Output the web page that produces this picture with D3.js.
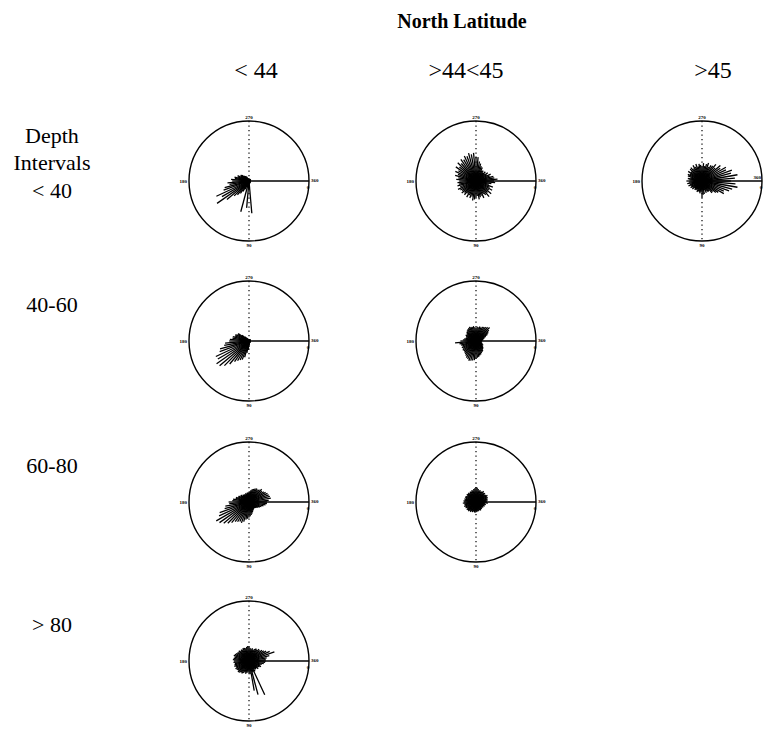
<!DOCTYPE html>
<html>
<head>
<meta charset="utf-8">
<script src="https://cdn.jsdelivr.net/npm/d3@7"></script>
<style>
  html, body { margin: 0; padding: 0; background: #fff; }
  svg { display: block; }
  text { font-family: "Liberation Serif", "Times New Roman", serif; fill: #000; }
</style>
</head>
<body>
<svg id="chart" width="765" height="729"></svg>
<script>
// ---------- DATA ----------
const title = "North Latitude";
const latitudeLabels = ["< 44", ">44<45", ">45"];
const depthLabels = [["Depth", "Intervals", "< 40"], ["40-60"], ["60-80"], ["> 80"]];
const directionLabels = { top: "270", left: "180", right: "360", rightLow: "0", bottom: "90" };

// directions of the rays (degrees), every 5 degrees
const directions = d3.range(0, 360, 5);

// relative ray lengths (fraction of circle radius) per panel, one per direction
const lat44_depth40 = [0.03,0.03,0.02,0.03,0.03,0.02,0.03,0.03,0.02,0.03,0.03,0.03,0.04,0.04,0.04,0.04,0.05,0.54,
  0.05,0.45,0.06,0.53,0.10,0.15,0.20,0.25,0.30,0.35,0.48,0.65,0.52,0.60,0.45,0.42,0.33,0.36,
  0.28,0.30,0.24,0.25,0.20,0.21,0.16,0.17,0.15,0.12,0.10,0.10,0.08,0.05,0.04,0.04,0.03,0.04,
  0.03,0.03,0.04,0.03,0.03,0.03,0.04,0.03,0.03,0.03,0.03,0.04,0.03,0.03,0.03,0.03,0.03,0.03];
const lat4445_depth40 = [0.30,0.32,0.26,0.22,0.30,0.25,0.31,0.26,0.33,0.27,0.34,0.28,0.25,0.31,0.26,0.28,0.31,0.25,
  0.28,0.31,0.33,0.27,0.30,0.26,0.31,0.25,0.30,0.27,0.31,0.28,0.30,0.33,0.28,0.32,0.29,0.31,
  0.28,0.33,0.30,0.36,0.32,0.38,0.34,0.41,0.36,0.43,0.38,0.44,0.41,0.46,0.44,0.48,0.45,0.47,
  0.41,0.40,0.33,0.30,0.26,0.25,0.20,0.21,0.18,0.22,0.19,0.24,0.21,0.27,0.24,0.30,0.31,0.36];
const lat45_depth40 = [0.48,0.56,0.60,0.52,0.48,0.40,0.42,0.33,0.30,0.25,0.26,0.20,0.21,0.18,0.21,0.16,0.22,0.23,
  0.28,0.18,0.21,0.19,0.18,0.20,0.16,0.18,0.19,0.17,0.21,0.19,0.22,0.20,0.24,0.21,0.25,0.22,
  0.26,0.21,0.24,0.20,0.25,0.26,0.23,0.28,0.24,0.28,0.29,0.25,0.30,0.26,0.30,0.25,0.29,0.27,
  0.24,0.30,0.25,0.29,0.32,0.26,0.30,0.31,0.36,0.31,0.40,0.37,0.46,0.44,0.53,0.50,0.60,0.55];
const lat44_depth60 = [0.03,0.03,0.03,0.03,0.03,0.03,0.03,0.03,0.03,0.03,0.03,0.03,0.03,0.03,0.03,0.03,0.04,0.06,
  0.10,0.15,0.20,0.28,0.33,0.35,0.38,0.42,0.50,0.58,0.64,0.66,0.60,0.61,0.52,0.50,0.42,0.40,
  0.33,0.32,0.28,0.28,0.25,0.25,0.22,0.22,0.15,0.10,0.07,0.05,0.04,0.03,0.03,0.03,0.03,0.03,
  0.03,0.03,0.03,0.03,0.03,0.03,0.03,0.03,0.03,0.03,0.03,0.03,0.03,0.03,0.03,0.03,0.03,0.03];
const lat4445_depth60 = [0.10,0.08,0.10,0.09,0.11,0.12,0.14,0.13,0.15,0.17,0.18,0.20,0.21,0.22,0.24,0.25,0.27,0.28,
  0.30,0.32,0.33,0.34,0.35,0.33,0.32,0.30,0.28,0.27,0.26,0.27,0.25,0.26,0.24,0.26,0.28,0.35,
  0.26,0.22,0.20,0.18,0.17,0.18,0.20,0.19,0.20,0.22,0.23,0.24,0.25,0.26,0.25,0.24,0.25,0.23,
  0.22,0.24,0.23,0.25,0.24,0.26,0.27,0.28,0.30,0.32,0.28,0.25,0.22,0.18,0.15,0.13,0.12,0.10];
const lat44_depth80 = [0.30,0.30,0.28,0.25,0.22,0.20,0.18,0.16,0.15,0.14,0.13,0.14,0.15,0.16,0.18,0.20,0.22,0.24,
  0.26,0.28,0.30,0.34,0.37,0.36,0.38,0.40,0.45,0.50,0.55,0.60,0.63,0.55,0.52,0.42,0.40,0.33,
  0.34,0.28,0.27,0.23,0.23,0.20,0.20,0.17,0.18,0.15,0.16,0.14,0.15,0.14,0.16,0.14,0.16,0.16,
  0.16,0.18,0.20,0.22,0.23,0.25,0.26,0.25,0.27,0.30,0.28,0.30,0.32,0.34,0.35,0.36,0.37,0.33];
const lat4445_depth80 = [0.18,0.20,0.15,0.17,0.14,0.16,0.13,0.15,0.14,0.13,0.15,0.14,0.16,0.15,0.14,0.16,0.15,0.17,
  0.16,0.18,0.17,0.16,0.18,0.17,0.19,0.18,0.20,0.19,0.20,0.18,0.20,0.19,0.21,0.19,0.20,0.22,
  0.20,0.21,0.19,0.20,0.18,0.20,0.19,0.18,0.20,0.19,0.20,0.18,0.20,0.19,0.21,0.20,0.22,0.23,
  0.25,0.24,0.22,0.20,0.21,0.19,0.20,0.22,0.20,0.21,0.19,0.20,0.22,0.20,0.21,0.19,0.20,0.18];
const lat44_depthOver80 = [0.28,0.27,0.25,0.22,0.20,0.22,0.20,0.18,0.20,0.17,0.18,0.16,0.20,0.62,0.20,0.58,0.50,0.22,
  0.20,0.18,0.20,0.22,0.20,0.22,0.24,0.23,0.25,0.26,0.24,0.25,0.26,0.24,0.26,0.25,0.24,0.26,
  0.25,0.27,0.26,0.25,0.27,0.26,0.25,0.24,0.23,0.24,0.22,0.23,0.22,0.24,0.23,0.22,0.24,0.25,
  0.24,0.22,0.20,0.22,0.20,0.22,0.24,0.23,0.26,0.25,0.28,0.30,0.33,0.38,0.45,0.35,0.30,0.28];

// panels: [row (depth index), column (latitude index), values]
const panels = [
  [0, 0, lat44_depth40], [0, 1, lat4445_depth40], [0, 2, lat45_depth40],
  [1, 0, lat44_depth60], [1, 1, lat4445_depth60],
  [2, 0, lat44_depth80], [2, 1, lat4445_depth80],
  [3, 0, lat44_depthOver80]
];

// ---------- LAYOUT ----------
const W = 765, H = 729;
const svg = d3.select("#chart");
const colX = d3.scaleOrdinal().domain([0,1,2]).range([249, 476, 702]);
const rowY = d3.scaleOrdinal().domain([0,1,2,3]).range([181, 341, 502, 661]);
const R = 60;
const rScale = d3.scaleLinear().domain([0, 1]).range([0, R]);
const aScale = d3.scaleLinear().domain([0, 360]).range([0, 2 * Math.PI]);

// titles
svg.append("text").attr("x", 462).attr("y", 28).attr("text-anchor", "middle")
  .attr("font-size", 20).attr("font-weight", "bold").text(title);

const headerX = [256, 466, 713];
latitudeLabels.forEach((t, i) => {
  svg.append("text").attr("x", headerX[i]).attr("y", 78).attr("text-anchor", "middle")
    .attr("font-size", 24).text(t);
});

const rowLabelY = [[143, 170, 198], [312], [473], [632]];
depthLabels.forEach((lines, i) => {
  lines.forEach((t, j) => {
    svg.append("text").attr("x", 52).attr("y", rowLabelY[i][j]).attr("text-anchor", "middle")
      .attr("font-size", 22).text(t);
  });
});

// panels
panels.forEach(([row, col, values]) => {
  const cx = colX(col), cy = rowY(row);
  const g = svg.append("g").attr("transform", `translate(${cx},${cy})`);

  // rays
  g.selectAll("line.ray").data(directions.map((d, i) => ({ dir: d, len: values[i] })))
    .join("line").attr("class", "ray")
    .attr("x1", 0).attr("y1", 0)
    .attr("x2", d => rScale(d.len) * Math.cos(aScale(d.dir)))
    .attr("y2", d => rScale(d.len) * Math.sin(aScale(d.dir)))
    .attr("stroke", "#000").attr("stroke-width", 1.3);

  // dotted 90-270 axis
  g.append("line").attr("x1", 0).attr("y1", -R).attr("x2", 0).attr("y2", R)
    .attr("stroke", "#000").attr("stroke-width", 1.2).attr("stroke-dasharray", "1.2,3.3");
  // solid 0/360 radius
  g.append("line").attr("x1", 0).attr("y1", 0).attr("x2", rScale(1)).attr("y2", 0)
    .attr("stroke", "#000").attr("stroke-width", 1.3);
  // circle
  g.append("circle").attr("r", rScale(1)).attr("fill", "none")
    .attr("stroke", "#000").attr("stroke-width", 1.4);

  // direction labels
  const lab = (x, y, t, anchor) => g.append("text").attr("x", x).attr("y", y)
    .attr("text-anchor", anchor).attr("font-size", 5).attr("font-family", "DejaVu Sans")
    .attr("font-weight", "bold").text(t);
  lab(0, -R - 2, directionLabels.top, "middle");
  lab(0, R + 5.5, directionLabels.bottom, "middle");
  lab(-R - 2, 2, directionLabels.left, "end");
  if (cx + R + 12 > W) lab(R - 1, -2, directionLabels.right, "end");
  else lab(R + 2, 1, directionLabels.right, "start");
  lab(R - 1, 8, directionLabels.rightLow, "middle");
});
</script>
</body>
</html>
